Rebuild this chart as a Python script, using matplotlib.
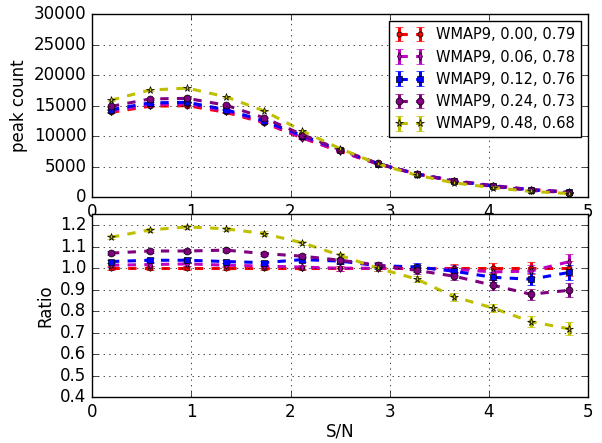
import numpy as np
import matplotlib
matplotlib.use('Agg')
import matplotlib.pyplot as plt

plt.style.use('classic')

# S/N bin centres
sn = [0.19, 0.58, 0.96, 1.35, 1.73, 2.12, 2.50, 2.88, 3.27, 3.65, 4.04, 4.42, 4.81]

labels = ['WMAP9, 0.00, 0.79', 'WMAP9, 0.06, 0.78', 'WMAP9, 0.12, 0.76',
          'WMAP9, 0.24, 0.73', 'WMAP9, 0.48, 0.68']

counts_000 = [13900, 14900, 15000, 13900, 12200, 9700, 7500, 5450, 3800, 2700, 1900, 1250, 820]
counts_006 = [14095, 15153, 15300, 14095, 12322, 9749, 7500, 5450, 3800, 2687, 1868, 1233, 845]
counts_012 = [14331, 15451, 15555, 14331, 12517, 10088, 7748, 5515, 3823, 2662, 1820, 1186, 804]
counts_024 = [14873, 16092, 16200, 15068, 13030, 10243, 7778, 5532, 3762, 2600, 1750, 1099, 736]
counts_048 = [15902, 17552, 17880, 16444, 14164, 10845, 7950, 5450, 3610, 2341, 1549, 940, 589]

all_counts = [counts_000, counts_006, counts_012, counts_024, counts_048]
colors = ['r', 'm', 'b', 'purple', 'y']
markers = ['h', 'd', 's', 'o', '*']
msizes = [4, 4, 5, 5, 5.5]

fig = plt.figure(figsize=(6.02, 4.43), dpi=100)
ax1 = fig.add_axes([0.153, 0.555, 0.824, 0.413])
ax2 = fig.add_axes([0.153, 0.103, 0.824, 0.413])

ref = np.array(counts_000, dtype=float)
for cnt, c, m, ms, lab in zip(all_counts, colors, markers, msizes, labels):
    cnt = np.array(cnt, dtype=float)
    err = np.sqrt(cnt)
    ax1.errorbar(sn, cnt, yerr=err, color=c, ecolor=c, ls='--', lw=2.2,
                 marker=m, ms=ms, mfc=c, mec='k', capsize=3, label=lab)
    ax2.errorbar(sn, cnt / ref, yerr=err / ref, color=c, ecolor=c, ls='--', lw=2.2,
                 marker=m, ms=ms, mfc=c, mec='k', capsize=3)

ax1.set_xlim(0, 5)
ax1.set_ylim(0, 30000)
ax1.set_ylabel('peak count', labelpad=4)
ax1.grid(True)
ax1.legend(loc='upper right', fontsize=10.5, numpoints=2)

ax2.set_xlim(0, 5)
ax2.set_ylim(0.4, 1.25)
ax2.set_yticks([0.4, 0.5, 0.6, 0.7, 0.8, 0.9, 1.0, 1.1, 1.2])
ax2.set_ylabel('Ratio', labelpad=4)
ax2.set_xlabel('S/N', labelpad=1)
ax2.grid(True)

fig.savefig('out.png', dpi=100)
